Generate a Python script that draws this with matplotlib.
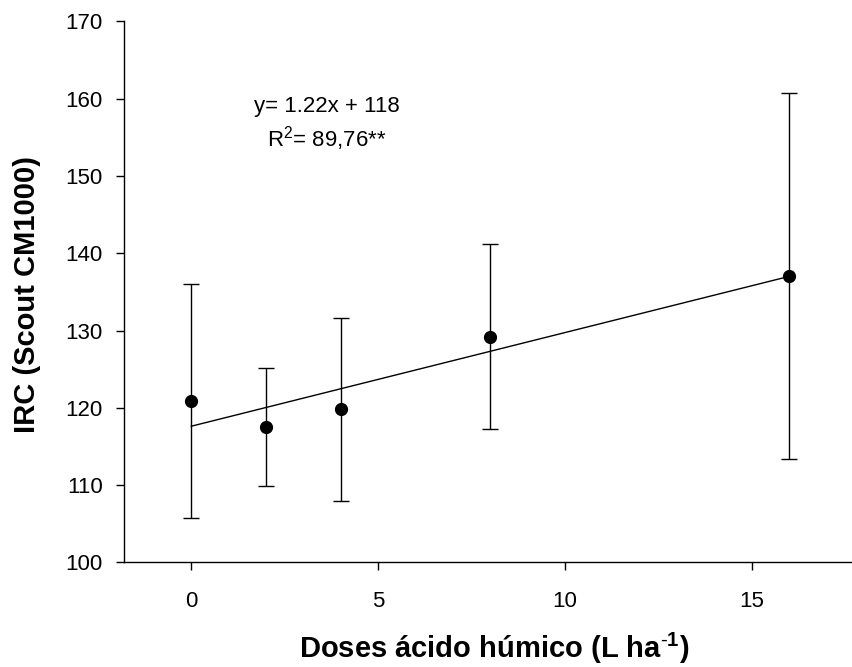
import numpy as np
import matplotlib
matplotlib.use('Agg')
import matplotlib.pyplot as plt

plt.rcParams['font.family'] = 'Liberation Sans'
plt.rcParams['mathtext.fontset'] = 'custom'
plt.rcParams['mathtext.rm'] = 'Liberation Sans'
plt.rcParams['mathtext.bf'] = 'Liberation Sans:bold'

# data
doses = [0, 2, 4, 8, 16]
irc = [120.86, 117.54, 119.82, 129.22, 137.04]
irc_sd = [15.15, 7.67, 11.86, 11.96, 23.65]

eq_text = 'y= 1.22x + 118'
r2_text = r'R$^2$= 89,76**'

fig = plt.figure(figsize=(8.53, 6.67), dpi=100)
ax = fig.add_axes([0.1454, 0.1567, 0.8546, 0.8114])

ax.errorbar(doses, irc, yerr=irc_sd, fmt='o', color='k', markersize=8.5,
            ecolor='k', elinewidth=1.0, capsize=5.6, capthick=1.0)

# linear fit through the means
slope, icpt = np.polyfit(doses, irc, 1)
xfit = np.array([min(doses), max(doses)])
ax.plot(xfit, slope * xfit + icpt, 'k-', linewidth=1.0)

ax.text(3.63, 158.3, eq_text, ha='center', va='baseline', fontsize=16)
ax.text(3.63, 153.8, r2_text, ha='center', va='baseline', fontsize=16)

ax.set_xlim(-1.8, 17.7)
ax.set_ylim(100, 170)
ax.set_xticks([0, 5, 10, 15])
ax.set_yticks(range(100, 171, 10))

for side in ['top', 'right']:
    ax.spines[side].set_visible(False)
for side in ['left', 'bottom']:
    ax.spines[side].set_linewidth(1.0)

ax.tick_params(direction='out', length=5.8, width=1.0, labelsize=16)
ax.tick_params(axis='x', pad=15)
ax.tick_params(axis='y', pad=9.5)

ax.set_ylabel('IRC (Scout CM1000)', fontsize=21, fontweight='bold')
ax.yaxis.set_label_coords(-0.114, 0.495)
fig.text(494 / 853, 9 / 667, r'Doses ácido húmico (L ha$^{\text{-}\mathbf{1}}$)',
         ha='center', va='baseline', fontsize=21, fontweight='bold')

fig.savefig('out.png', dpi=100)
